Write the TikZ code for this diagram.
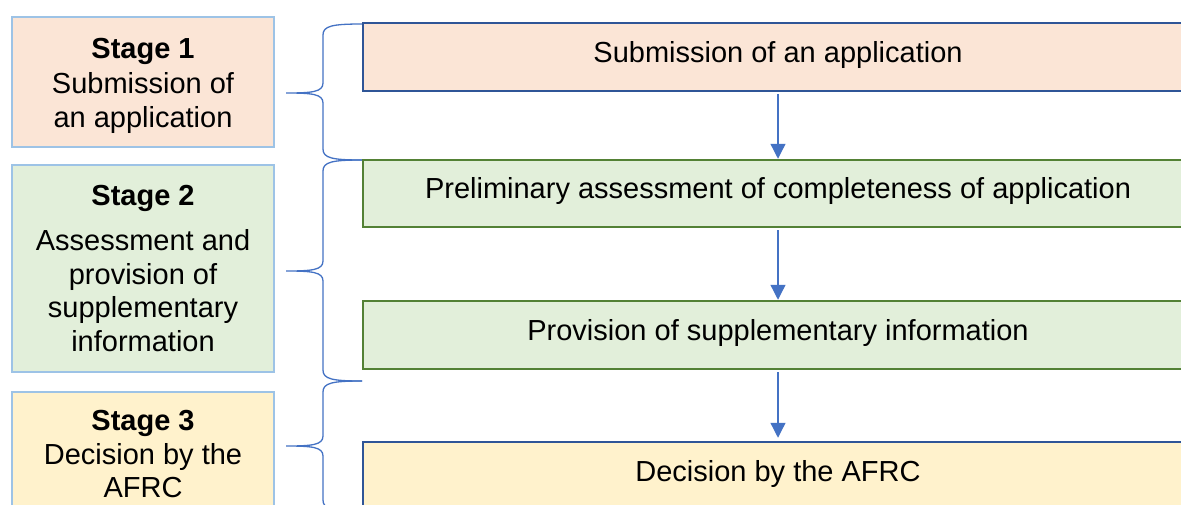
\documentclass[tikz,border=0pt]{standalone}
\usepackage{fontspec}
\setmainfont{Liberation Sans}
\usetikzlibrary{arrows.meta}
\definecolor{peach}{HTML}{FBE5D6}
\definecolor{mint}{HTML}{E2EFDA}
\definecolor{cream}{HTML}{FFF2CC}
\definecolor{lightblueb}{HTML}{9DC3E6}
\definecolor{darkblueb}{HTML}{2F5597}
\definecolor{greenb}{HTML}{538135}
\definecolor{accent}{HTML}{4472C4}
\tikzset{
  stagebox/.style={draw=lightblueb, line width=2.5pt, minimum width=262pt, align=center,
    font=\fontsize{29}{33.5}\selectfont, inner sep=0pt},
  stepbox/.style={line width=2.5pt, minimum width=830pt, minimum height=68pt,
    font=\fontsize{29}{33.5}\selectfont, inner sep=0pt, text height=21pt, text depth=11pt},
  flowarrow/.style={draw=accent, line width=1.3pt, -{Triangle[width=15pt,length=15pt]}},
  bracepath/.style={draw=accent, line width=1.3pt},
}
\newcommand{\mybrace}[3]{% top y, tip y, bottom y
  \draw[bracepath] (362,#1) .. controls (332,#1) and (323,#1+2) .. (323,#1+11)
    -- (323,#2-10) .. controls (323,#2-1) and (312,#2) .. (286,#2)
    .. controls (312,#2) and (323,#2+1) .. (323,#2+10)
    -- (323,#3-11) .. controls (323,#3-2) and (332,#3) .. (362,#3);}
\begin{document}
\begin{tikzpicture}[x=1pt,y=-1pt]
\useasboundingbox (0,0) rectangle (1181,504);
\clip (0,0) rectangle (1181,504);
\fill[white] (0,0) rectangle (1181,504);
% left stage boxes
\node[stagebox, fill=peach, minimum height=130pt] (s1) at (143,82)
  {\rule{0pt}{28pt}\textbf{Stage 1}\\[1.5pt]Submission of\\an application};
\node[stagebox, fill=mint, minimum height=207pt] (s2) at (143,268.5)
  {\textbf{Stage 2}\\[12pt]Assessment and\\provision of\\supplementary\\information};
\node[stagebox, fill=cream, minimum height=130pt] (s3) at (143,457)
  {\textbf{Stage 3}\\Decision by the\\AFRC\rule[-6pt]{0pt}{6pt}};
% braces
\mybrace{24}{93}{160}
\mybrace{160}{271}{381}
\mybrace{381}{446}{511}
% right process boxes
\node[stepbox, draw=darkblueb, fill=peach] (b1) at (778,57) {Submission of an application};
\node[stepbox, draw=greenb, fill=mint, minimum height=67pt] (b2) at (778,193.5) {Preliminary assessment of completeness of application};
\node[stepbox, draw=greenb, fill=mint] (b3) at (778,335) {Provision of supplementary information};
\node[stepbox, draw=darkblueb, fill=cream] (b4) at (778,476) {Decision by the AFRC};
% arrows
\draw[flowarrow, shorten <=2pt] (b1.south) -- (b2.north);
\draw[flowarrow, shorten <=2pt] (b2.south) -- (b3.north);
\draw[flowarrow, shorten <=2pt, shorten >=3pt] (b3.south) -- (b4.north);
\end{tikzpicture}
\end{document}
